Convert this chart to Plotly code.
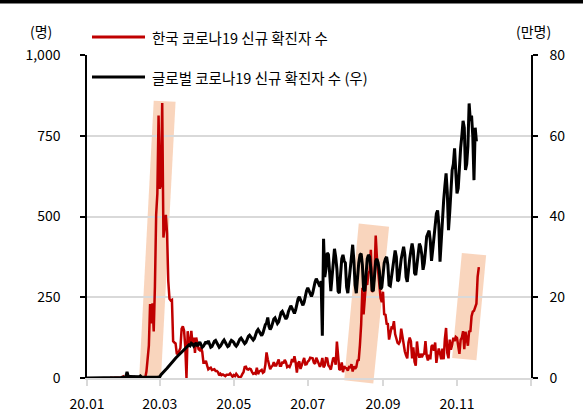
import pandas as pd
import plotly.graph_objects as go

# ---------------- data ----------------
# Korea daily new cases (persons), 2020-01-20 .. 2020-11-19
korea_start = "2020-01-20"
korea_jan = [1, 0, 0, 0, 1, 0, 1, 1, 0, 0, 2, 5]
korea_feb = [1, 3, 0, 1, 2, 5, 1, 0, 3, 0, 0, 0, 0, 0, 0, 1, 1, 1, 20, 53,
             100, 229, 169, 231, 144, 284, 505, 571, 813]
korea_mar = [586, 599, 851, 435, 467, 505, 448, 300, 245, 240, 242, 114, 110, 107,
             76, 74, 84, 93, 152, 160, 147, 98, 0, 145, 100, 104, 146, 105, 125, 78, 125]
korea_apr = [101, 89, 86, 94, 81, 47, 47, 53, 39, 27, 30, 32, 25, 27, 27, 22, 22, 18,
             8, 13, 9, 11, 8, 6, 10, 10, 10, 14, 9, 4]
korea_may = [9, 6, 13, 8, 3, 2, 4, 12, 18, 34, 35, 27, 26, 29, 27, 19, 13, 15, 13, 32,
             12, 20, 23, 25, 16, 19, 40, 79, 58, 39, 27]
korea_jun = [35, 38, 49, 39, 39, 51, 57, 38, 38, 50, 45, 56, 49, 34, 37, 34, 43, 59, 49,
             67, 48, 17, 46, 51, 28, 39, 51, 62, 42, 43]
korea_jul = [51, 54, 63, 63, 61, 48, 44, 63, 50, 45, 35, 44, 62, 33, 39, 61, 60, 39, 34,
             26, 45, 63, 59, 41, 113, 58, 25, 28, 48, 18, 36]
korea_aug = [31, 30, 23, 34, 33, 43, 20, 36, 28, 34, 54, 56, 103, 166, 279, 197, 246, 297,
             288, 324, 332, 397, 266, 280, 320, 441, 371, 323, 299, 248, 235]
korea_sep = [267, 195, 198, 168, 167, 119, 136, 156, 155, 176, 136, 121, 109, 106, 113, 153,
             126, 110, 82, 70, 61, 110, 125, 114, 61, 95, 50, 38, 113, 77]
korea_oct = [63, 75, 64, 73, 75, 114, 69, 54, 72, 58, 98, 102, 84, 110, 47, 73, 91, 76, 58,
             91, 58, 121, 155, 77, 61, 119, 88, 103, 125, 114, 127]
korea_nov = [124, 97, 75, 118, 125, 145, 89, 143, 126, 100, 146, 143, 191, 205, 208, 223,
             230, 313, 343]

# Global daily new cases (10,000 persons, right axis), 2020-01-01 .. 2020-11-17
global_start = "2020-01-01"
global_jan = [0, 0, 0, 0, 0, 0, 0, 0, 0, 0, 0, 0, 0, 0, 0, 0, 0, 0, 0, 0, 0,
              0.01, 0.01, 0.03, 0.05, 0.07, 0.08, 0.16, 0.13, 0.2, 0.2]
global_feb = [0.26, 0.28, 1.5, 0.38, 0.37, 0.36, 0.32, 0.28, 0.3, 0.25, 0.2, 0.18, 0.3,
              0.5, 0.22, 0.2, 0.19, 0.18, 0.1, 0.1, 0.1, 0.1, 0.1, 0.1, 0.12, 0.14, 0.16,
              0.2, 0.25]
global_mar = [0.3, 0.8, 1.2, 1.5, 1.8, 2.1, 2.4, 2.8, 3.2, 3.6, 3.9, 4.2, 4.5, 4.9, 5.2,
              5.5, 5.8, 6.0, 6.4, 6.8, 7.1, 7.4, 7.6, 7.9, 8.2, 8.0, 8.6, 8.4, 7.9, 8.3, 8.7]
global_apr = [7.9, 8.6, 8.9, 8.2, 7.6, 7.9, 8.7, 9.0, 8.5, 9.2, 8.4, 7.6, 7.8, 8.5, 9.1,
              9.3, 8.7, 8.1, 7.6, 7.9, 8.6, 9.0, 9.4, 9.0, 8.3, 7.8, 8.0, 8.8, 9.3, 9.1]
global_may = [8.8, 8.2, 7.9, 8.3, 9.0, 9.6, 9.9, 9.5, 8.9, 8.5, 8.8, 9.7, 10.3, 10.6, 10.1,
              9.6, 9.4, 9.8, 10.8, 11.6, 12.0, 11.5, 10.9, 10.5, 11.1, 12.3, 13.2, 13.6,
              15.0, 12.8, 12.0]
global_jun = [12.6, 13.8, 14.6, 14.9, 14.3, 13.5, 13.9, 15.0, 16.2, 16.5, 16.0, 15.2, 14.6,
              15.1, 16.4, 17.5, 17.9, 17.3, 16.5, 16.0, 16.9, 18.4, 19.6, 20.1, 19.4, 18.6,
              18.0, 18.8, 20.5, 21.6]
global_jul = [22.3, 21.6, 20.8, 20.2, 21.0, 22.6, 23.8, 24.6, 24.0, 23.2, 22.6, 24.0, 10.5,
              34.5, 25.0, 27.0, 31.0, 30.6, 24.5, 21.5, 25.0, 28.5, 32.0, 30.0, 27.0, 21.5,
              21.0, 25.5, 29.5, 30.5, 29.0]
global_aug = [28.5, 22.5, 21.0, 24.5, 27.5, 29.5, 33.0, 29.0, 23.0, 21.0, 25.0, 28.5, 30.5,
              30.8, 28.0, 22.0, 21.5, 25.5, 29.5, 30.5, 30.0, 27.0, 21.8, 21.5, 26.0, 29.0,
              29.5, 28.5, 26.5, 22.0, 22.5]
global_sep = [26.5, 28.5, 29.5, 30.0, 28.0, 23.0, 22.8, 25.0, 28.5, 30.4, 31.6, 30.0, 24.0,
              24.3, 28.0, 29.5, 31.0, 32.5, 30.5, 25.0, 23.8, 27.5, 29.5, 31.5, 33.3, 31.5,
              26.0, 25.5, 28.5, 31.0]
global_oct = [33.3, 32.5, 30.5, 26.8, 28.4, 31.5, 35.0, 35.8, 36.5, 34.0, 29.0, 31.8, 34.5,
              37.4, 40.7, 41.5, 38.0, 28.8, 35.0, 39.0, 44.0, 47.5, 50.7, 46.0, 36.6, 41.0,
              48.0, 51.5, 53.0, 56.9, 51.0]
global_nov = [45.7, 47.0, 53.3, 57.0, 60.0, 63.7, 62.0, 51.5, 53.0, 57.5, 68.0, 63.7, 65.0,
              60.0, 49.0, 62.0, 58.6]

# x-axis ticks
tick_dates = ["2020-01-01", "2020-03-01", "2020-05-01", "2020-07-01", "2020-09-01",
              "2020-11-01", "2021-01-01"]
tick_labels = ["20.01", "20.03", "20.05", "20.07", "20.09", "20.11", ""]

# highlighted episodes (parallelogram corners: date, persons)
highlight_1_dates = ["2020-02-25", "2020-03-14", "2020-03-02", "2020-02-13"]
highlight_1_values = [858, 855, 0, 0]
highlight_2_dates = ["2020-08-12", "2020-09-06", "2020-08-24", "2020-07-31"]
highlight_2_values = [478, 468, -17, -7]
highlight_3_dates = ["2020-11-05", "2020-11-25", "2020-11-17", "2020-10-28"]
highlight_3_values = [387, 380, 55, 62]

korea_name = "한국 코로나19 신규 확진자 수"
global_name = "글로벌 코로나19 신규 확진자 수 (우)"

# ---------------- build ----------------
korea_vals = (korea_jan + korea_feb + korea_mar + korea_apr + korea_may + korea_jun +
              korea_jul + korea_aug + korea_sep + korea_oct + korea_nov)
korea_dates = pd.date_range(korea_start, periods=len(korea_vals), freq="D")
global_vals = (global_jan + global_feb + global_mar + global_apr + global_may + global_jun +
               global_jul + global_aug + global_sep + global_oct + global_nov)
global_dates = pd.date_range(global_start, periods=len(global_vals), freq="D")

W, H = 583, 419
L, R, T, B = 87, 52, 55, 41
PW, PH = W - L - R, H - T - B


def px(xp):
    return (xp - L) / PW


def py(yp):
    return (H - B - yp) / PH


FONT = "Noto Sans CJK KR"
RED = "#c00000"
GRID = "#d9d9d9"

fig = go.Figure()
fig.add_trace(go.Scatter(x=korea_dates, y=korea_vals, mode="lines", name=korea_name,
                         line=dict(color=RED, width=2.5), yaxis="y", showlegend=False))
fig.add_trace(go.Scatter(x=global_dates, y=global_vals, mode="lines", name=global_name,
                         line=dict(color="black", width=3), yaxis="y2", showlegend=False))

shapes = []
for dates, vals in [(highlight_1_dates, highlight_1_values),
                    (highlight_2_dates, highlight_2_values),
                    (highlight_3_dates, highlight_3_values)]:
    pts = [f"{d},{v / 1000:.4f}" for d, v in zip(dates, vals)]
    path = "M" + " L".join(pts) + " Z"
    shapes.append(dict(type="path", xref="x", yref="paper", path=path,
                       fillcolor="#f8cbad", opacity=0.8, line=dict(width=0),
                       layer="below"))

# top black band
shapes.append(dict(type="rect", xref="paper", yref="paper", x0=px(0), x1=px(W),
                   y0=py(3.5), y1=py(0), fillcolor="black", line=dict(width=0)))
# legend lines
shapes.append(dict(type="line", xref="paper", yref="paper", x0=px(92), x1=px(145),
                   y0=py(37), y1=py(37), line=dict(color=RED, width=3)))
shapes.append(dict(type="line", xref="paper", yref="paper", x0=px(92), x1=px(145),
                   y0=py(77), y1=py(77), line=dict(color="black", width=3)))

annotations = [
    dict(text=korea_name, xref="paper", yref="paper", x=px(150), y=py(37),
         xanchor="left", yanchor="middle", showarrow=False,
         font=dict(family=FONT, size=14.5, color="black")),
    dict(text=global_name, xref="paper", yref="paper", x=px(150), y=py(77),
         xanchor="left", yanchor="middle", showarrow=False,
         font=dict(family=FONT, size=14.5, color="black")),
    dict(text="(명)", xref="paper", yref="paper", x=px(41), y=py(31),
         xanchor="center", yanchor="middle", showarrow=False,
         font=dict(family=FONT, size=14, color="black")),
    dict(text="(만명)", xref="paper", yref="paper", x=px(533), y=py(31),
         xanchor="center", yanchor="middle", showarrow=False,
         font=dict(family=FONT, size=14, color="black")),
]

fig.update_layout(
    width=W, height=H,
    margin=dict(l=L, r=R, t=T, b=B, pad=0, autoexpand=False),
    paper_bgcolor="white", plot_bgcolor="white",
    font=dict(family=FONT, size=14, color="black"),
    showlegend=False,
    shapes=shapes,
    annotations=annotations,
    xaxis=dict(type="date", range=["2020-01-01", "2021-01-01"], automargin=False,
               tickvals=tick_dates, ticktext=tick_labels,
               showgrid=False, showline=True, linecolor=GRID, linewidth=1.5,
               ticks="outside", ticklen=6, tickcolor=GRID, tickwidth=1.5,
               tickfont=dict(family=FONT, size=14, color="black"),
               ticklabelstandoff=6, zeroline=False),
    yaxis=dict(range=[0, 1000], tickvals=[0, 250, 500, 750, 1000], automargin=False,
               ticktext=["0", "250", "500", "750", "1,000"],
               showgrid=True, gridcolor=GRID, gridwidth=1.5,
               showline=True, linecolor="black", linewidth=1.5,
               ticks="outside", ticklen=5, tickcolor="black", tickwidth=1.5,
               tickfont=dict(family=FONT, size=14, color="black"),
               ticklabelstandoff=17, zeroline=False),
    yaxis2=dict(range=[0, 80], tickvals=[0, 20, 40, 60, 80], overlaying="y", side="right",
                automargin=False,
                showgrid=False, showline=True, linecolor="black", linewidth=1.5,
                ticks="outside", ticklen=5, tickcolor="black", tickwidth=1.5,
                tickfont=dict(family=FONT, size=14, color="black"),
                ticklabelstandoff=9, zeroline=False),
)

fig.write_html("out.html",
               config={"displayModeBar": False},
               post_script="document.body.style.margin='0px';"
                           "document.body.style.overflow='hidden';")
